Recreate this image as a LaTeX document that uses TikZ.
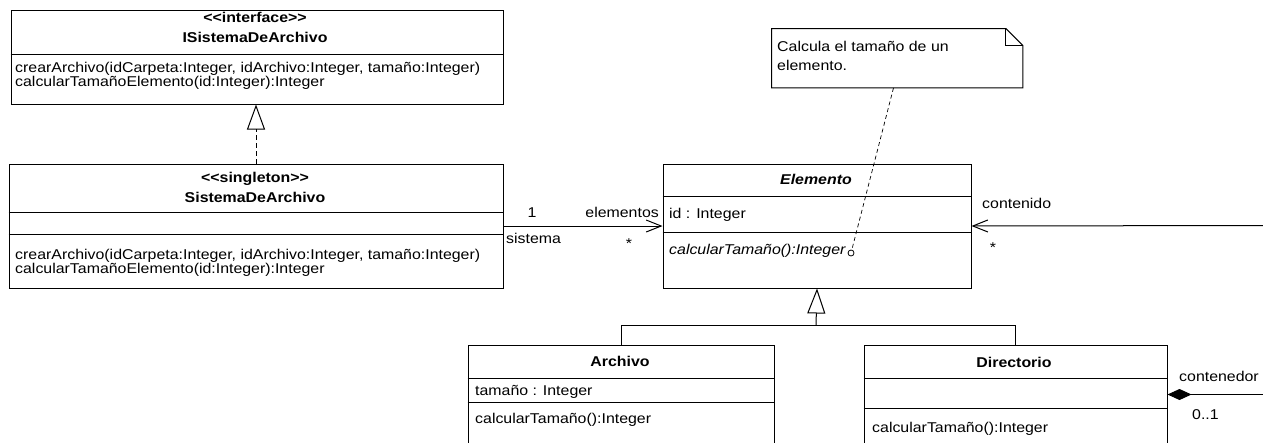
\documentclass[tikz,border=0pt]{standalone}
\usepackage{fontspec}
\setmainfont{Liberation Sans}[FakeStretch=1.12]
\usetikzlibrary{arrows.meta,positioning}
\newcommand{\compline}[2]{\draw[sep] ([yshift=-#2pt]#1.north west) -- ([yshift=-#2pt]#1.north east);}
\newcommand{\stereo}[1]{{<}{<}#1{>}{>}}

\begin{document}
\begin{tikzpicture}[
  x=1pt,y=-1pt,
  font=\fontsize{14.2}{14}\selectfont,
  cls/.style={draw,line width=1pt,inner sep=0pt,anchor=north west},
  txt/.style={anchor=base west,inner sep=0pt},
  ttl/.style={anchor=base,inner sep=0pt,font=\fontsize{14.2}{14}\selectfont\bfseries},
  sep/.style={line width=1pt},
  assoc/.style={sep,-{Straight Barb[length=15pt,width=12pt]}},
  gen/.style={sep,-{Triangle[open,length=25pt,width=18pt]}},
  real/.style={gen,dash pattern=on 5pt off 3pt},
  notel/.style={line width=0.7pt,dash pattern=on 4pt off 3pt}]

\useasboundingbox (0,0) rectangle (1263,442);
\fill[white] (0,0) rectangle (1263,442);
\clip (0,0) rectangle (1263,442);

% interface
\node[cls,minimum width=492pt,minimum height=94pt] (isa) at (10.5,9.5) {};
\compline{isa}{45}
\node[ttl] (isaS) at (255,22) {\stereo{interface}};
\node[ttl] (isaN) at (255,42) {ISistemaDeArchivo};
\node[txt] (isaO1) at (15,72) {crearArchivo(idCarpeta:Integer, idArchivo:Integer, tamaño:Integer)};
\node[txt] (isaO2) at (15,86) {calcularTamañoElemento(id:Integer):Integer};

% singleton
\node[cls,minimum width=494pt,minimum height=124pt] (sis) at (8.5,163.5) {};
\compline{sis}{49}
\compline{sis}{71}
\node[ttl] (sisS) at (255,182) {\stereo{singleton}};
\node[ttl] (sisN) at (255,202) {SistemaDeArchivo};
\node[txt] (sisO1) at (15,259) {crearArchivo(idCarpeta:Integer, idArchivo:Integer, tamaño:Integer)};
\node[txt] (sisO2) at (15,273) {calcularTamañoElemento(id:Integer):Integer};

% elemento
\node[cls,minimum width=308pt,minimum height=124pt] (elem) at (662.5,163.5) {};
\compline{elem}{33}
\compline{elem}{69}
\node[ttl,font=\fontsize{14.2}{14}\selectfont\bfseries\itshape] (elemN) at (816,184) {Elemento};
\node[txt] (elemA) at (669,218) {id : Integer};
\node[txt] (elemO) at (669,254) {\textit{calcularTamaño():Integer}};
\node[circle,draw,line width=0.8pt,inner sep=0pt,minimum size=6pt] (circ) at (851,253) {};

% nota
\node[minimum width=251pt,minimum height=59pt,inner sep=0pt,anchor=north west] (note) at (771.5,28.5) {};
\draw[sep] (note.north west) -- ([xshift=-17pt]note.north east) -- ([yshift=-17pt]note.north east)
  -- (note.south east) -- (note.south west) -- cycle;
\draw[sep] ([xshift=-17pt]note.north east) |- ([yshift=-17pt]note.north east);
\node[txt] (noteT1) at (777,51) {Calcula el tamaño de un};
\node[txt] (noteT2) at (777,70) {elemento.};

% archivo, directorio
\node[cls,minimum width=306pt,minimum height=120pt] (arch) at (467.5,344.5) {};
\compline{arch}{34}
\compline{arch}{58}
\node[ttl] (archN) at (620,366) {Archivo};
\node[txt] (archA) at (475,395) {tamaño : Integer};
\node[txt] (archO) at (475,423) {calcularTamaño():Integer};

\node[cls,minimum width=303pt,minimum height=120pt] (dir) at (863.5,344.5) {};
\compline{dir}{34}
\compline{dir}{64}
\node[ttl] (dirN) at (1014,367) {Directorio};
\node[txt] (dirO) at (872,432) {calcularTamaño():Integer};

% relaciones
\coordinate (genJ) at (816,325.5);
\coordinate (contR) at (1270,225.5);
\coordinate (contD) at (1270,394.5);
\draw[real] (sis.north) -- (sis.north |- isa.south);
\draw[assoc] (sis.east) -- (elem.west);
\draw[assoc] (contR) -- (elem.east);
\draw[sep] (arch.north) |- (genJ) -| (dir.north);
\draw[gen] (genJ) -- (elem.south);
\draw[sep,{Diamond[length=24pt,width=11pt]}-] ([yshift=-50pt]dir.north east) -- (contD);
\draw[notel] ([xshift=122pt]note.south west) -- (circ);

\node[anchor=base,inner sep=0pt] (m1) at (532,217) {1};
\node[anchor=base east,inner sep=0pt] (rElem) at (659,217) {elementos};
\node[txt] (rSis) at (506,243) {sistema};
\node[anchor=base,inner sep=0pt] (m2) at (629,248) {*};
\node[txt] (rCont) at (982,208) {contenido};
\node[anchor=base,inner sep=0pt] (m3) at (993,252) {*};
\node[txt] (rConte) at (1179,381) {contenedor};
\node[txt] (m4) at (1192,419) {0..1};
\end{tikzpicture}
\end{document}
